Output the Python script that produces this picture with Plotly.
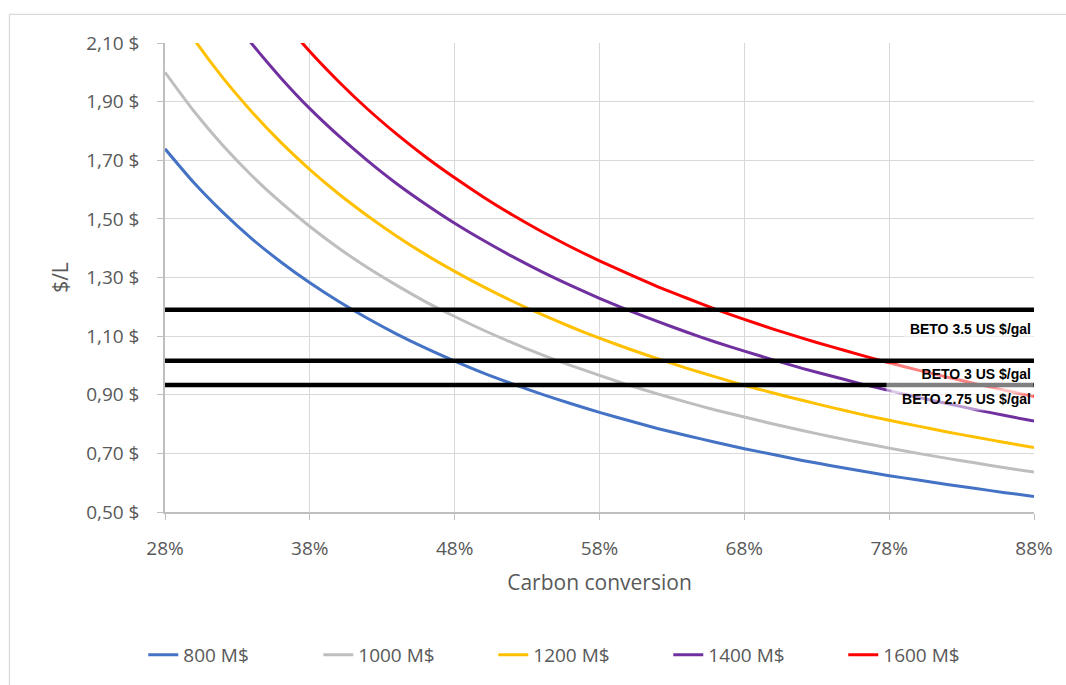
import plotly.graph_objects as go

# Carbon conversion (%) on the horizontal axis
conversion_pct = [28, 30, 32, 34, 36, 38, 40, 42, 44, 46, 48, 50, 52, 54, 56, 58,
                  60, 62, 64, 66, 68, 70, 72, 74, 76, 78, 80, 82, 84, 86, 88]

# Fuel cost ($/L) for each capital cost case
cost_800 = [1.739, 1.623, 1.522, 1.432, 1.353, 1.282, 1.218, 1.160, 1.107, 1.059, 1.015,
            0.974, 0.937, 0.902, 0.870, 0.840, 0.812, 0.785, 0.761, 0.738, 0.716, 0.696,
            0.676, 0.658, 0.641, 0.624, 0.609, 0.594, 0.580, 0.566, 0.553]
cost_1000 = [2.000, 1.867, 1.750, 1.647, 1.556, 1.474, 1.400, 1.333, 1.273, 1.217, 1.167,
             1.120, 1.077, 1.037, 1.000, 0.966, 0.933, 0.903, 0.875, 0.848, 0.824, 0.800,
             0.778, 0.757, 0.737, 0.718, 0.700, 0.683, 0.667, 0.651, 0.636]
cost_1200 = [2.264, 2.113, 1.981, 1.865, 1.761, 1.668, 1.585, 1.510, 1.441, 1.378, 1.321,
             1.268, 1.219, 1.174, 1.132, 1.093, 1.057, 1.023, 0.991, 0.961, 0.932, 0.906,
             0.881, 0.857, 0.834, 0.813, 0.793, 0.773, 0.755, 0.737, 0.720]
cost_1400 = [2.546, 2.377, 2.228, 2.097, 1.981, 1.876, 1.783, 1.698, 1.620, 1.550, 1.485,
             1.426, 1.371, 1.320, 1.273, 1.229, 1.188, 1.150, 1.114, 1.080, 1.049, 1.019,
             0.990, 0.964, 0.938, 0.914, 0.891, 0.870, 0.849, 0.829, 0.810]
cost_1600 = [2.811, 2.623, 2.459, 2.315, 2.186, 2.071, 1.968, 1.874, 1.789, 1.711, 1.640,
             1.574, 1.513, 1.457, 1.405, 1.357, 1.312, 1.269, 1.230, 1.192, 1.157, 1.124,
             1.093, 1.064, 1.036, 1.009, 0.984, 0.960, 0.937, 0.915, 0.894]

series_names = ["800 M$", "1000 M$", "1200 M$", "1400 M$", "1600 M$"]
series_values = [cost_800, cost_1000, cost_1200, cost_1400, cost_1600]
series_colors = ["#4472C4", "#BEBEBE", "#FFC000", "#7030A0", "#FF0000"]

# BETO target prices expressed in $/L
beto_labels = ["BETO 3.5 US $/gal", "BETO 3 US $/gal", "BETO 2.75 US $/gal"]
beto_values = [1.19, 1.016, 0.933]

TEXT_GREY = "#595959"
FONT = "Open Sans"

fig = go.Figure()

for name, ys, color in zip(series_names, series_values, series_colors):
    fig.add_trace(go.Scatter(
        x=conversion_pct, y=ys, mode="lines", name=name,
        line=dict(color=color, width=3, shape="spline", smoothing=0.6),
    ))

for label, value in zip(beto_labels, beto_values):
    fig.add_trace(go.Scatter(
        x=[conversion_pct[0], conversion_pct[-1]], y=[value, value], mode="lines",
        name=label, showlegend=False, hoverinfo="skip",
        line=dict(color="black", width=4.5),
    ))

# label boxes: (vertical offset below the line in px, box height, box width)
label_boxes = [(-8, 18, 124), (-2.5, 25, 142), (-3, 17, 137)]
for label, value, (shift, h, w) in zip(beto_labels, beto_values, label_boxes):
    fig.add_annotation(
        x=conversion_pct[-1], y=value, xref="x", yref="y",
        xanchor="right", yanchor="top", yshift=shift,
        text=f"<b>{label}</b>", showarrow=False,
        width=w, height=h, align="right", valign="top",
        bgcolor="rgba(255,255,255,0.5)", borderpad=2,
        font=dict(family="Liberation Sans", size=14, color="black"),
    )

# chart area border
fig.add_shape(type="rect", xref="paper", yref="paper",
              x0=-0.179, x1=1.3, y0=-0.6, y1=1.061,
              line=dict(color="#D9D9D9", width=1.2), fillcolor="rgba(0,0,0,0)",
              layer="below")

fig.update_layout(
    width=1066, height=685,
    margin=dict(l=165, r=32, t=43, b=172),
    paper_bgcolor="white", plot_bgcolor="white",
    separators=", ",
    font=dict(family=FONT, color=TEXT_GREY, size=19),
    showlegend=True,
    legend=dict(
        orientation="h", x=-0.025, xanchor="left", y=-0.302, yanchor="middle",
        font=dict(family=FONT, size=19, color=TEXT_GREY),
        entrywidth=130, entrywidthmode="pixels",
        bgcolor="rgba(0,0,0,0)",
    ),
    xaxis=dict(
        range=[28, 88], tickmode="linear", tick0=28, dtick=10, ticksuffix="%",
        showgrid=True, gridcolor="#D9D9D9", gridwidth=1.2,
        showline=True, linecolor="#BFBFBF", linewidth=1.5,
        ticks="outside", ticklen=6, tickcolor="#BFBFBF",
        ticklabelstandoff=12, zeroline=False,
        tickfont=dict(family=FONT, size=19, color=TEXT_GREY),
        title=dict(text="Carbon conversion", standoff=16,
                   font=dict(family=FONT, size=21, color=TEXT_GREY)),
    ),
    yaxis=dict(
        range=[0.5, 2.1], tickmode="linear", tick0=0.5, dtick=0.2,
        tickformat=".2f", ticksuffix=" $",
        showgrid=True, gridcolor="#D9D9D9", gridwidth=1.2,
        showline=True, linecolor="#BFBFBF", linewidth=1.5,
        ticks="outside", ticklen=6, tickcolor="#BFBFBF",
        ticklabelstandoff=14, zeroline=False,
        tickfont=dict(family=FONT, size=19, color=TEXT_GREY),
        title=dict(text="$/L", standoff=12,
                   font=dict(family=FONT, size=21, color=TEXT_GREY)),
    ),
)

fig.write_html("out.html")
